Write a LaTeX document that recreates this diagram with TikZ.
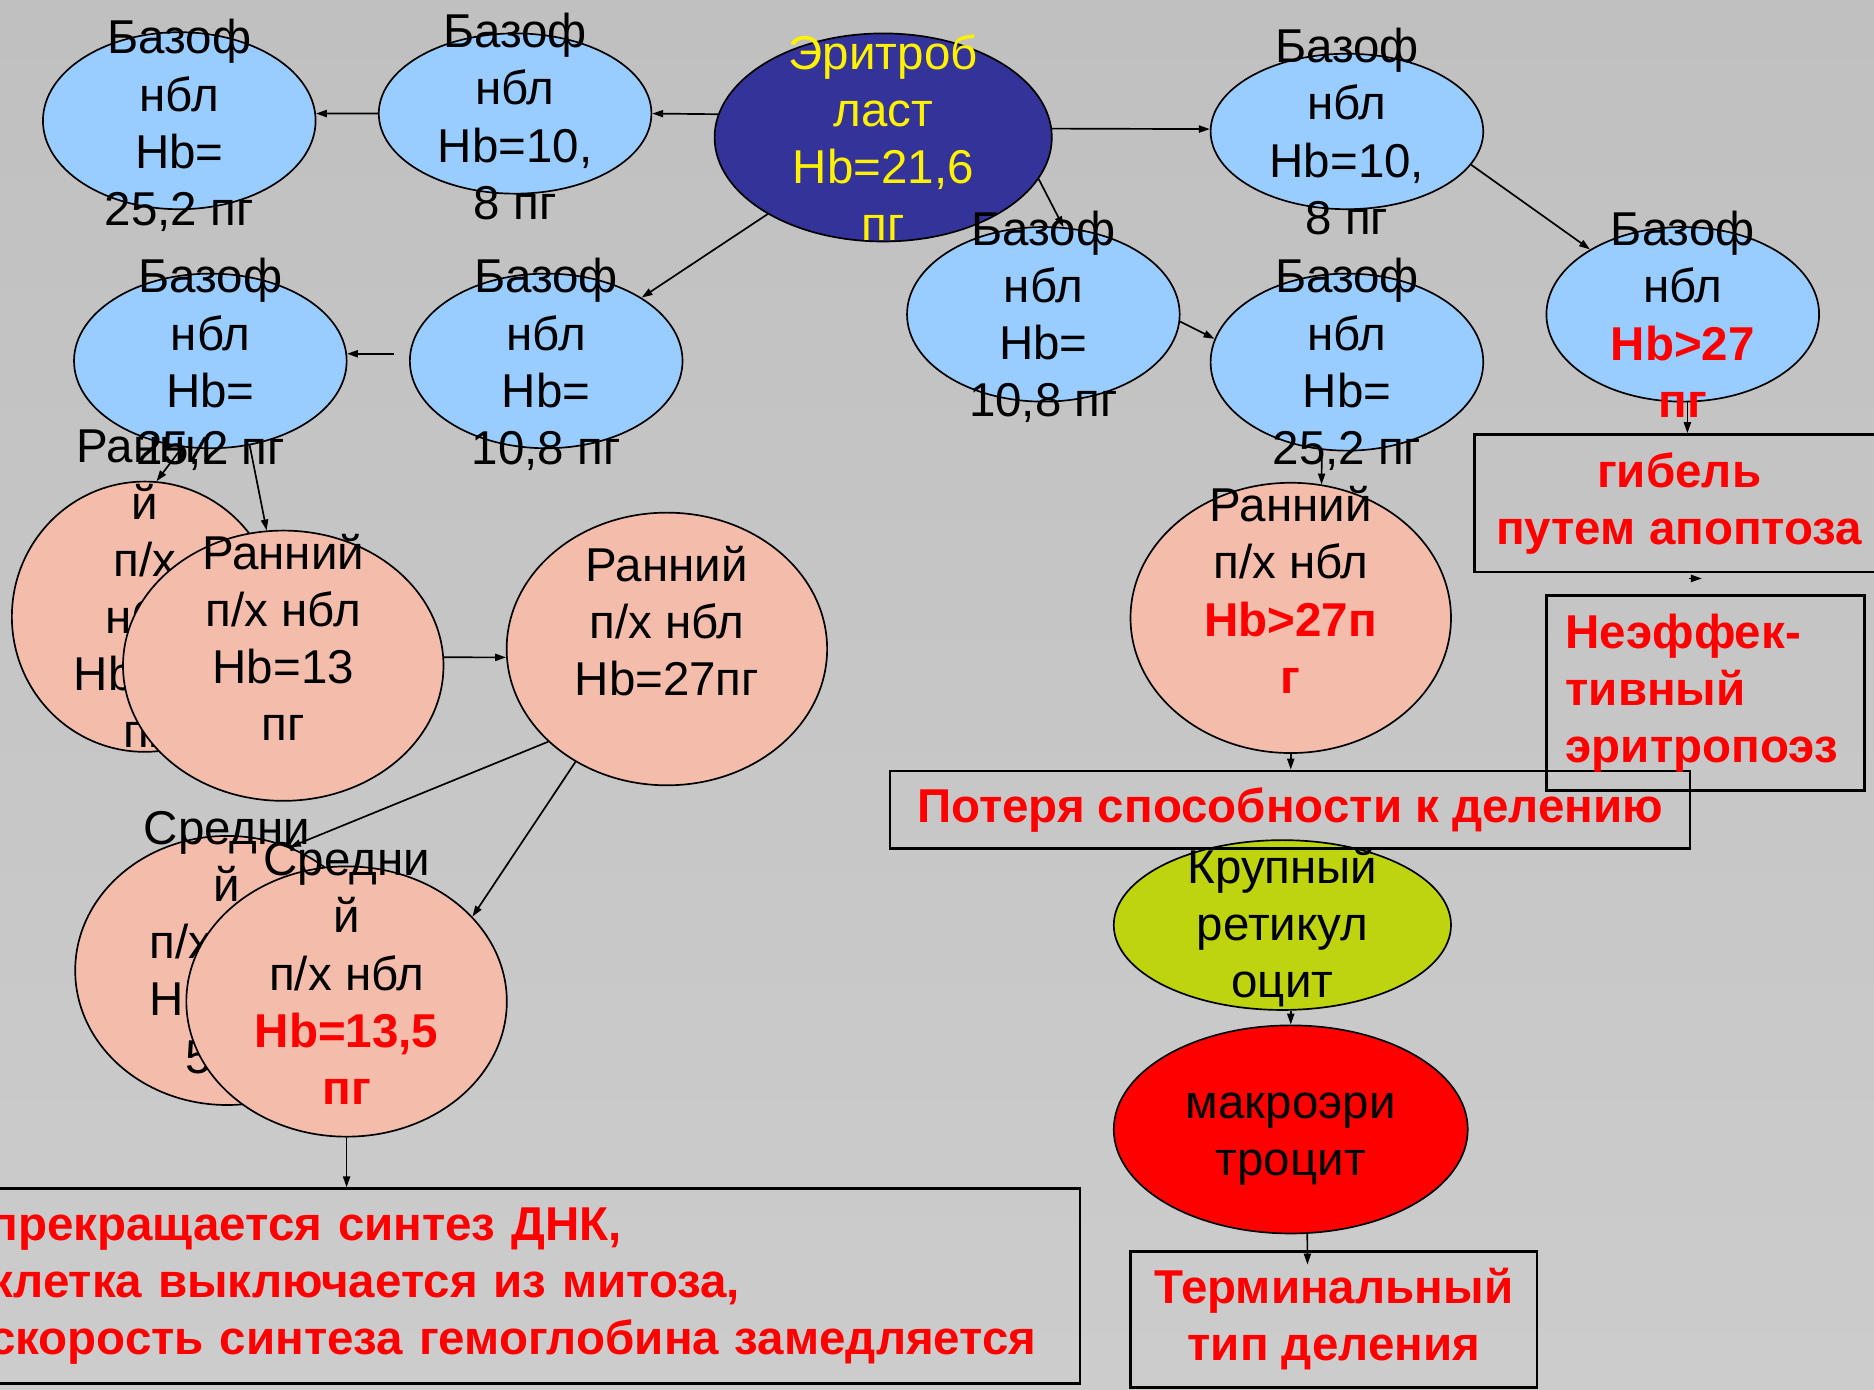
\documentclass[tikz,border=0pt]{standalone}
\usepackage{fontspec}
\setmainfont{Liberation Sans}
\usetikzlibrary{arrows.meta,shapes.geometric}
\definecolor{bgtop}{RGB}{192,192,192}
\definecolor{bgbot}{RGB}{204,204,204}
\definecolor{cellblue}{RGB}{153,204,255}
\definecolor{blastblue}{RGB}{51,51,153}
\definecolor{cellpink}{RGB}{244,188,170}
\definecolor{retgreen}{RGB}{190,212,14}
\newcommand\redb[1]{\textcolor{red}{\bfseries #1}}

\begin{document}
\begin{tikzpicture}[
  x=0.01cm,y=-0.01cm,
  every node/.style={font=\fontsize{11.3}{13.6}\selectfont,align=center,inner sep=0pt},
  cell/.style={ellipse,draw=black,line width=0.4pt},
  bluecell/.style={cell,fill=cellblue,minimum width=2.28cm},
  pinkcell/.style={cell,fill=cellpink},
  note/.style={draw=black,line width=0.6pt,text=red,font=\fontsize{11.3}{13.6}\selectfont\bfseries},
  edge/.style={-{Triangle[length=2.6pt,width=1.7pt]},black,line width=0.4pt}
]
  \path[use as bounding box,top color=bgtop,bottom color=bgbot] (0,0) rectangle (1568,1163);
  \clip (0,0) rectangle (1568,1163);

  % erythroblast
  \node[cell,fill=blastblue,minimum width=2.82cm,minimum height=1.74cm] (e) at (739,115) {};
  \node[text=yellow] (e-t) at (e) {Эритроб\\ласт\\Hb=21,6\\пг};

  % basophilic normoblasts
  \foreach \cname/\cx/\cy/\ty/\cht/\ctext in {
    b1/150/101/105/1.48/{Базоф\\нбл\\Hb=\\25,2 пг},
    b2/431/95/97.5/1.34/{Базоф\\нбл\\Hb=10,\\8 пг},
    b3/1127/110/110/1.30/{Базоф\\нбл\\Hb=10,\\8 пг},
    b4/176/302/305/1.46/{Базоф\\нбл\\Hb=\\25,2 пг},
    b5/457/302/305/1.46/{Базоф\\нбл\\Hb=\\10,8 пг},
    b6/873/263/265/1.46/{Базоф\\нбл\\Hb=\\10,8 пг},
    b7/1127/303/305/1.48/{Базоф\\нбл\\Hb=\\25,2 пг},
    b8/1408/263/263/1.46/{Базоф\\нбл\\\redb{Hb>27}\\\redb{пг}}} {
    \node[bluecell,minimum height=\cht cm] (\cname) at (\cx,\cy) {};
    \node (\cname-t) at (\cx,\ty) {\ctext};
  }

  % polychromatophilic normoblasts
  \foreach \cname/\cx/\cy/\cw/\cht/\ctext in {
    r1/121/516/2.22/2.26/{Ранни\\й\\п/х\\нбл\\Hb=13\\пг},
    r2/237/557/2.68/2.26/{Ранний\\п/х нбл\\Hb=13\\пг},
    r3/558/543/2.68/2.28/{Ранний\\п/х нбл\\Hb=27пг},
    s1/190/812/2.54/2.25/{Средни\\й\\п/х нбл\\Hb=13,\\5 пг},
    s2/290/838/2.68/2.26/{Средни\\й\\п/х нбл\\\redb{Hb=13,5}\\\redb{пг}},
    r4/1080/517/2.68/2.26/{Ранний\\п/х нбл\\\redb{Hb>27п}\\\redb{г}}} {
    \node[pinkcell,minimum width=\cw cm,minimum height=\cht cm] (\cname) at (\cx,\cy) {};
    \node (\cname-t) at ([yshift=0.235cm]\cname.center) {\ctext};
  }

  \node[cell,fill=retgreen,minimum width=2.82cm,minimum height=1.42cm] (ret) at (1073,774) {};
  \node (ret-t) at (1073,776) {Крупный\\ретикул\\оцит};
  \node[cell,fill=red,minimum width=2.96cm,minimum height=1.74cm] (macro) at (1080,945) {};
  \node (macro-t) at (1080,953) {макроэри\\троцит};

  % boxes
  \node[note,anchor=west,minimum height=1.63cm,text width=8.92cm,inner xsep=0.2cm,align=left] (stop) at (-30,1076)
    {прекращается синтез ДНК,\\клетка выключается из митоза,\\скорость синтеза гемоглобина замедляется};
  \node[note,minimum width=6.69cm,minimum height=0.65cm] (loss) at (1079.5,677.5) {Потеря способности к делению};
  \node[note,minimum width=3.40cm,minimum height=1.14cm] (term) at (1116,1104) {Терминальный\\тип деления};
  \node[note,minimum width=3.42cm,minimum height=1.15cm] (death) at (1405,421) {гибель\\путем апоптоза};
  \node[note,minimum height=1.63cm,text width=2.34cm,inner xsep=0.16cm,align=left] (ineff) at (1427,580)
    {Неэффек-\\тивный\\эритропоэз};

  \coordinate (macro-in) at (1094,1058);
  \coordinate (death-out) at (1413,484);
  \coordinate (ineff-in) at (1424,484);

  % connectors
  \draw[edge] (e.172) -- (b2.east);
  \draw[edge] (b2.west) -- (b1.3);
  \draw[edge] (e.3) -- (b3.179);
  \draw[edge] (e) -- (b5);
  \draw[edge] (e.-15) -- (b6.77);
  \draw[edge] (b3.-15) -- (b8.145);
  \draw[edge] (b6.-3) -- (b7.170);
  \draw[edge,shorten <=1.3mm] (b5.177) -- (b4.3);
  \draw[edge] (b4.-108) -- (r1.85);
  \draw[edge] (b4.-65) -- (r2.97);
  \draw[edge] (r2.3) -- (r3.183);
  \draw[edge] (r3.218) -- (s1.63);
  \draw[edge] (r3.231) -- (s2.34);
  \draw[edge] (s2.south) -- (s2.south |- stop.north);
  \draw[edge] (b7.-106) -- (r4.77);
  \draw[edge] (r4.south) -- (r4.south |- loss.north);
  \draw[edge] (ret.south -| macro.north) -- (macro.north);
  \draw[edge] (macro.-81) -- (macro-in);
  \draw[edge] (b8.-87) -- (b8.-87 |- death.north);
  \draw[edge] (death-out) -- (ineff-in);
\end{tikzpicture}
\end{document}
